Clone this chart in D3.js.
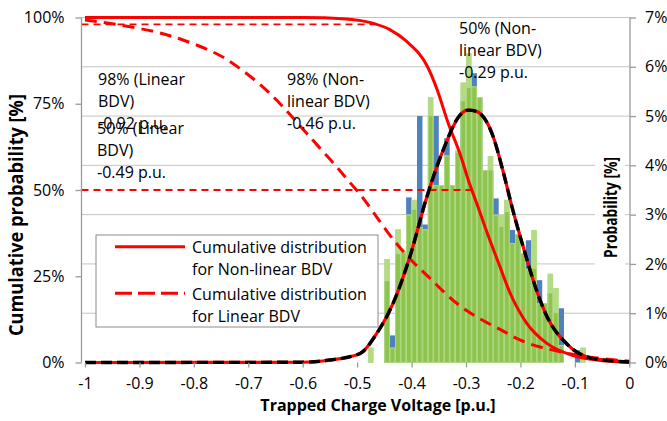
<!DOCTYPE html>
<html><head><meta charset="utf-8">
<script src="https://cdn.jsdelivr.net/npm/d3@7"></script>
<style>
html,body{margin:0;padding:0;background:#fff;}
svg{display:block;font-family:"Open Sans",sans-serif;}
</style></head><body>
<svg id="chart" width="667" height="421"></svg>
<script>
// ---------------- DATA ----------------
const xTicks = [-1, -0.9, -0.8, -0.7, -0.6, -0.5, -0.4, -0.3, -0.2, -0.1, 0];
const xTickLabels = ["-1", "-0.9", "-0.8", "-0.7", "-0.6", "-0.5", "-0.4", "-0.3", "-0.2", "-0.1", "0"];
const leftTicks = [0, 0.25, 0.5, 0.75, 1];
const leftTickLabels = ["0%", "25%", "50%", "75%", "100%"];
const rightTicks = [0, 0.01, 0.02, 0.03, 0.04, 0.05, 0.06, 0.07];
const rightTickLabels = ["0%", "1%", "2%", "3%", "4%", "5%", "6%", "7%"];

// histogram bins (left edge, width 0.01) and probabilities [%]
const binStarts = [-0.48, -0.47, -0.46, -0.45, -0.44, -0.43, -0.42, -0.41, -0.40, -0.39,
                   -0.38, -0.37, -0.36, -0.35, -0.34, -0.33, -0.32, -0.31, -0.30, -0.29,
                   -0.28, -0.27, -0.26, -0.25, -0.24, -0.23, -0.22, -0.21, -0.20, -0.19,
                   -0.18, -0.17, -0.16, -0.15, -0.14, -0.13, -0.12, -0.11, -0.10, -0.09];
const histBlue  = [0.00, 0.00, 0.00, 1.65, 0.55, 2.20, 2.25, 3.35, 3.10, 5.00,
                   2.80, 5.00, 5.00, 3.60, 4.55, 3.60, 4.25, 5.30, 5.57, 5.87,
                   5.38, 3.90, 3.90, 3.33, 2.75, 3.05, 2.69, 2.60, 2.22, 2.48,
                   1.90, 1.67, 1.20, 1.40, 1.00, 1.10, 0.00, 0.00, 0.25, 0.00];
const histGreen = [0.30, 0.00, 0.00, 2.10, 0.30, 2.70, 2.25, 3.00, 3.30, 2.75,
                   2.70, 5.38, 3.60, 3.60, 4.20, 3.60, 4.30, 5.68, 6.27, 5.60,
                   5.38, 3.90, 4.19, 3.00, 2.99, 3.30, 2.42, 2.60, 2.22, 1.90,
                   2.69, 1.20, 1.20, 1.80, 1.51, 0.35, 0.00, 0.00, 0.00, 0.30];

// cumulative distribution, non-linear BDV [%]
const cumNonLinearX = [-1.00, -0.60, -0.52, -0.47, -0.44, -0.41, -0.37, -0.354, -0.333, -0.31,
                       -0.296, -0.28, -0.262, -0.237, -0.22, -0.189, -0.152, -0.103, -0.06, 0.00];
const cumNonLinearY = [100, 100, 99.6, 98.3, 96.5, 93.2, 85.5, 79.5, 69.5, 60,
                       53, 46, 38, 27.5, 20.5, 11.5, 5.6, 2.0, 0.7, 0.1];

// cumulative distribution, linear BDV [%]
const cumLinearX = [-1.00, -0.94, -0.87, -0.82, -0.755, -0.72, -0.675, -0.633, -0.596, -0.547,
                    -0.51, -0.495, -0.473, -0.443, -0.418, -0.391, -0.368, -0.333, -0.296, -0.26,
                    -0.232, -0.201, -0.164, -0.115, -0.06, 0.00];
const cumLinearY = [99.3, 98.0, 96.0, 93.6, 89.6, 85.8, 80.4, 73.7, 66.9, 58.5,
                    51.5, 49.0, 44.2, 37.4, 32.6, 28.0, 24.8, 19.1, 14.5, 11.4,
                    9.2, 6.3, 4.4, 2.6, 1.2, 0.4];

// fitted probability density [%] (right axis)
const pdfX = [-1.00, -0.60, -0.55, -0.495, -0.464, -0.434, -0.403, -0.372, -0.342, -0.311,
              -0.296, -0.280, -0.250, -0.231, -0.213, -0.195, -0.170, -0.152, -0.115, -0.066, 0.00];
const pdfY = [0, 0.005, 0.05, 0.18, 0.59, 1.2, 2.15, 3.36, 4.31, 5.02,
              5.12, 5.09, 4.58, 3.84, 3.05, 2.35, 1.45, 0.95, 0.38, 0.08, 0.01];

// reference levels (98 % and 50 %) and where they end
const refLevels = [0.98, 0.50];
const refEnds = [-0.46, -0.29];

const annotations = [
  ["98% (Linear", "BDV)", "-0.92 p.u."],
  ["50% (Linear", "BDV)", "-0.49 p.u."],
  ["98% (Non-", "linear BDV)", "-0.46 p.u."],
  ["50% (Non-", "linear BDV)", "-0.29 p.u."]
];
const legendLabels = [["Cumulative distribution", "for Non-linear BDV"],
                      ["Cumulative distribution", "for Linear BDV"]];
const xTitle = "Trapped Charge Voltage [p.u.]";
const yLeftTitle = "Cumulative probability [%]";
const yRightTitle = "Probability [%]";

// ---------------- LAYOUT ----------------
const svg = d3.select("#chart");
const plotLeft = 81.5, plotRight = 630, plotTop = 17.5, plotBottom = 362.5;
const x = d3.scaleLinear().domain([-1, 0]).range([85, 629.3]);
const yL = d3.scaleLinear().domain([0, 1]).range([plotBottom, plotTop]);
const yR = d3.scaleLinear().domain([0, 0.07]).range([plotBottom, plotTop]);
const xMin = x.invert(plotLeft);

const RED = "#FF0000";
const GRID = "#C4C4C4";
const AXIS = "#9A9A9A";

// gridlines (right axis)
svg.append("g").selectAll("line").data(rightTicks.slice(1)).join("line")
  .attr("x1", plotLeft).attr("x2", plotRight)
  .attr("y1", d => yR(d)).attr("y2", d => yR(d))
  .attr("stroke", GRID).attr("stroke-width", 1);

// histogram
const bins = binStarts.map((s, i) => ({s, b: histBlue[i] / 100, g: histGreen[i] / 100}));
const hg = svg.append("g");
const bx = d => x(d.s), bw = d => x(d.s + 0.01) - x(d.s);
hg.selectAll("rect.blue").data(bins.filter(d => d.b > 0)).join("rect")
  .attr("x", bx).attr("width", bw)
  .attr("y", d => yR(d.b)).attr("height", d => plotBottom - yR(d.b))
  .attr("fill", "#4F81BD");
hg.selectAll("rect.glight").data(bins.filter(d => d.g > 0)).join("rect")
  .attr("x", bx).attr("width", bw)
  .attr("y", d => yR(d.g)).attr("height", d => plotBottom - yR(d.g))
  .attr("fill", "#B3DA85");
hg.selectAll("rect.gdark").data(bins.filter(d => Math.min(d.g, d.b) > 0)).join("rect")
  .attr("x", bx).attr("width", bw)
  .attr("y", d => yR(Math.min(d.g, d.b))).attr("height", d => plotBottom - yR(Math.min(d.g, d.b)))
  .attr("fill", "#8DC44F");
hg.selectAll("rect.gline").data(bins.filter(d => d.g > 0)).join("rect")
  .attr("x", d => bx(d) + 0.4).attr("width", d => bw(d) - 0.8)
  .attr("y", d => yR(d.g) + 0.4).attr("height", d => plotBottom - yR(d.g) - 0.4)
  .attr("fill", "none").attr("stroke", "#B5DB88").attr("stroke-width", 0.8);

// reference lines
svg.append("g").selectAll("line").data(refLevels).join("line")
  .attr("x1", x(xMin)).attr("x2", (d, i) => x(refEnds[i]))
  .attr("y1", d => yL(d)).attr("y2", d => yL(d))
  .attr("stroke", RED).attr("stroke-width", 1.8).attr("stroke-dasharray", "7,5");

// curves
const cumNL = cumNonLinearX.map((v, i) => [v, cumNonLinearY[i]]);
const cumLin = cumLinearX.map((v, i) => [v, cumLinearY[i]]);
const pdf = pdfX.map((v, i) => [v, pdfY[i]]);
const lineNL = d3.line().x(d => x(d[0])).y(d => yL(d[1] / 100)).curve(d3.curveMonotoneX);
const lineLin = d3.line().x(d => x(d[0])).y(d => yL(d[1] / 100)).curve(d3.curveBasis);
const linePdf = d3.line().x(d => x(d[0])).y(d => yR(d[1] / 100)).curve(d3.curveMonotoneX);

svg.append("path").attr("d", lineNL(cumNL)).attr("fill", "none")
  .attr("stroke", RED).attr("stroke-width", 3);
svg.append("path").attr("d", lineLin(cumLin)).attr("fill", "none")
  .attr("stroke", RED).attr("stroke-width", 3).attr("stroke-dasharray", "12,7");
svg.append("path").attr("d", linePdf(pdf)).attr("fill", "none")
  .attr("stroke", RED).attr("stroke-width", 3.2);
svg.append("path").attr("d", linePdf(pdf)).attr("fill", "none")
  .attr("stroke", "#000").attr("stroke-width", 3.4).attr("stroke-dasharray", "11,5");

// axes lines
svg.append("line").attr("x1", plotLeft).attr("x2", plotLeft).attr("y1", plotTop).attr("y2", plotBottom)
  .attr("stroke", AXIS).attr("stroke-width", 1.3);
svg.append("line").attr("x1", plotRight).attr("x2", plotRight).attr("y1", plotTop).attr("y2", plotBottom)
  .attr("stroke", AXIS).attr("stroke-width", 1.3);

const styleAxis = g => {
  g.select(".domain").remove();
  g.selectAll(".tick line").attr("stroke", AXIS).attr("stroke-width", 1.3);
  g.selectAll(".tick text").attr("fill", "#000").attr("font-size", 16).attr("font-family", "Open Sans");
};
svg.append("g").attr("transform", `translate(${plotLeft},0)`)
  .call(d3.axisLeft(yL).tickValues(leftTicks).tickFormat((d, i) => leftTickLabels[i]).tickSize(6).tickPadding(11))
  .call(styleAxis);
svg.append("g").attr("transform", `translate(${plotRight},0)`)
  .call(d3.axisRight(yR).tickValues(rightTicks).tickFormat((d, i) => rightTickLabels[i]).tickSize(6).tickPadding(9))
  .call(styleAxis);
svg.append("g").attr("transform", `translate(0,${plotBottom})`)
  .call(d3.axisBottom(x).tickValues(xTicks).tickFormat((d, i) => xTickLabels[i]).tickSize(5).tickPadding(10))
  .call(styleAxis);

// legend
const lg = svg.append("g");
lg.append("rect").attr("x", 96).attr("y", 235).attr("width", 282).attr("height", 92)
  .attr("fill", "#fff").attr("stroke", "#8C8C8C").attr("stroke-width", 1);
[246.7, 293.3].forEach((yy, i) => {
  lg.append("line").attr("x1", 115).attr("x2", 185).attr("y1", yy).attr("y2", yy)
    .attr("stroke", RED).attr("stroke-width", 3)
    .attr("stroke-dasharray", i === 1 ? "17,6" : null);
  legendLabels[i].forEach((t, j) => {
    lg.append("text").attr("x", 192).attr("y", yy + 6.3 + j * 22).text(t)
      .attr("font-size", 16).attr("fill", "#000");
  });
});

// annotations
const annoPos = [[98, 85], [97, 134], [287, 85], [459, 34]];
annotations.forEach((lines, k) => {
  lines.forEach((t, j) => {
    svg.append("text").attr("x", annoPos[k][0]).attr("y", annoPos[k][1] + j * 21.8)
      .text(t).attr("font-size", 16).attr("fill", "#000");
  });
});

// titles
svg.append("text").attr("x", 378).attr("y", 411).attr("text-anchor", "middle")
  .attr("font-weight", "bold").attr("font-size", 16).text(xTitle);
svg.append("text").attr("transform", "translate(23,215) rotate(-90)").attr("text-anchor", "middle")
  .attr("font-weight", "bold").attr("font-size", 19.5)
  .attr("textLength", 242).attr("lengthAdjust", "spacingAndGlyphs").text(yLeftTitle);
const rt = svg.append("g").attr("transform", "translate(617,207.5) rotate(-90)");
const rtRect = rt.append("rect").attr("fill", "#fff");
const rtText = rt.append("text").attr("text-anchor", "middle")
  .attr("font-weight", "bold").attr("font-size", 17)
  .attr("textLength", 101).attr("lengthAdjust", "spacingAndGlyphs").text(yRightTitle);
const bb = rtText.node().getBBox();
rtRect.attr("x", -58).attr("width", 116).attr("y", bb.y - 4).attr("height", bb.height + 7);
</script>
</body></html>
